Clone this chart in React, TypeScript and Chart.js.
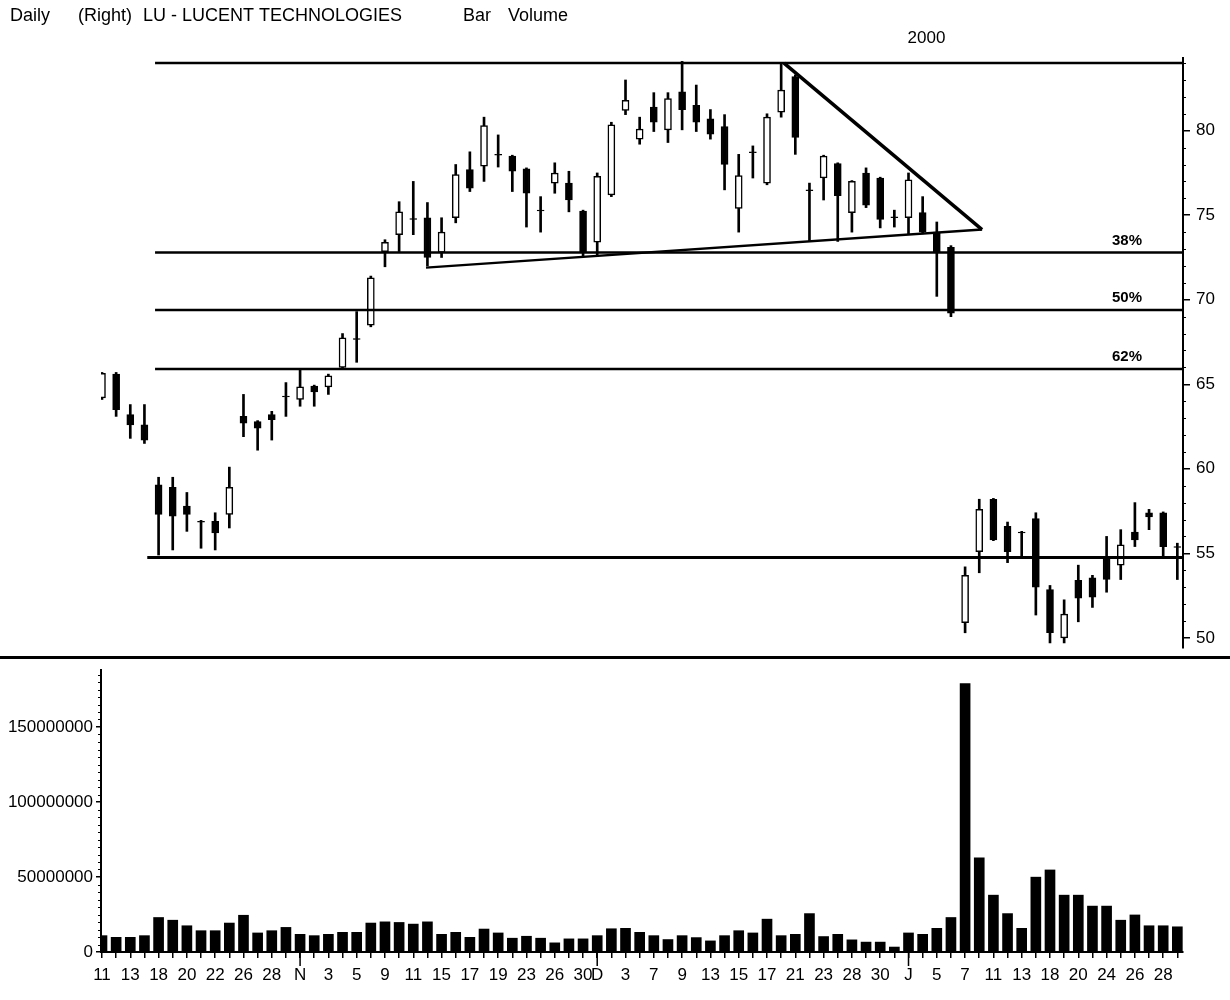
import React, { useEffect, useRef } from 'react';
import { Chart, registerables } from 'chart.js';

Chart.register(...registerables);

// ---------- DATA ----------
const tickLabels = [
  '11', '', '13', '', '18', '', '20', '', '22', '',
  '26', '', '28', '', 'N', '', '3', '', '5', '',
  '9', '', '11', '', '15', '', '17', '', '19', '',
  '23', '', '26', '', '30', 'D', '', '3', '', '7',
  '', '9', '', '13', '', '15', '', '17', '', '21',
  '', '23', '', '28', '', '30', '', 'J', '', '5',
  '', '7', '', '11', '', '13', '', '18', '', '20',
  '', '24', '', '26', '', '28', '',
];

const opens = [
  64.2, 65.6, 63.2, 62.6, 59.05, 58.9, 57.8, 56.9, 56.9, 57.3,
  63.1, 62.8, 63.2, 64.3, 64.1, 64.9, 64.85, 66.0, 67.7, 68.5,
  72.85, 73.85, 74.8, 74.85, 72.8, 74.85, 77.7, 77.9, 78.6, 78.5,
  77.75, 75.3, 76.9, 76.9, 75.25, 73.4, 76.2, 81.2, 79.5, 81.4,
  80.05, 82.3, 81.5, 80.7, 80.25, 75.4, 78.75, 76.9, 81.1, 83.2,
  76.5, 77.2, 78.05, 75.15, 77.5, 77.2, 74.9, 74.85, 75.15, 74.0,
  73.1, 50.9, 55.1, 58.2, 56.6, 56.25, 57.05, 52.85, 50.0, 53.4,
  53.55, 54.8, 54.3, 56.25, 57.4, 57.4, 55.4,
];
const highs = [
  65.7, 65.7, 63.8, 63.8, 59.5, 59.5, 58.6, 56.95, 57.4, 60.1,
  64.4, 62.85, 63.4, 65.1, 65.9, 64.95, 65.6, 68.0, 69.3, 71.4,
  73.55, 75.8, 77.0, 75.75, 74.85, 78.0, 78.75, 80.8, 79.75, 78.55,
  77.8, 76.1, 78.1, 77.6, 75.3, 77.5, 80.5, 83.0, 80.8, 82.25,
  82.25, 84.1, 82.7, 81.25, 80.95, 78.6, 79.1, 81.0, 84.0, 83.3,
  76.9, 78.55, 78.1, 77.05, 77.8, 77.25, 75.3, 77.5, 76.1, 74.6,
  73.2, 54.2, 58.2, 58.25, 56.85, 56.3, 57.4, 53.1, 52.25, 54.3,
  53.7, 56.0, 56.4, 58.0, 57.6, 57.45, 55.6,
];
const lows = [
  64.1, 63.1, 61.8, 61.5, 54.9, 55.2, 56.3, 55.3, 55.2, 56.5,
  61.9, 61.1, 61.7, 63.1, 63.7, 63.7, 64.4, 65.95, 66.3, 68.4,
  71.95, 72.85, 73.85, 72.0, 72.5, 74.55, 76.4, 77.0, 77.85, 76.4,
  74.3, 74.0, 76.3, 75.2, 72.6, 72.65, 76.1, 80.95, 79.2, 79.95,
  79.3, 80.05, 79.95, 79.5, 76.5, 74.0, 77.2, 76.8, 80.8, 78.6,
  73.45, 75.9, 73.45, 74.0, 75.45, 74.25, 74.3, 73.85, 73.9, 70.2,
  69.0, 50.3, 53.85, 55.75, 54.45, 54.8, 51.35, 49.7, 49.7, 50.95,
  51.8, 52.7, 53.45, 55.4, 56.4, 54.8, 53.45,
];
const closes = [
  65.65, 63.5, 62.6, 61.7, 57.3, 57.2, 57.3, 56.85, 56.2, 58.9,
  62.7, 62.4, 62.9, 64.25, 64.85, 64.55, 65.5, 67.75, 67.65, 71.3,
  73.4, 75.2, 74.75, 72.5, 74.0, 77.4, 76.6, 80.3, 78.55, 77.6,
  76.3, 75.25, 77.5, 75.9, 72.8, 77.3, 80.35, 81.8, 80.1, 80.5,
  81.9, 81.25, 80.5, 79.8, 78.0, 77.35, 78.7, 80.8, 82.4, 79.6,
  76.45, 78.5, 76.15, 77.0, 75.6, 74.75, 74.85, 77.1, 74.0, 72.85,
  69.2, 53.7, 57.6, 55.8, 55.1, 56.2, 53.0, 50.3, 51.4, 52.35,
  52.4, 53.45, 55.5, 55.8, 57.15, 55.4, 55.35,
];
const volumes = [
  10900000, 9800000, 9800000, 10900000, 23000000, 21200000, 17500000, 14200000, 14200000, 19300000,
  24500000, 12700000, 14200000, 16400000, 11800000, 10900000, 11800000, 13100000, 13100000, 19300000,
  20100000, 19700000, 18600000, 20100000, 11800000, 13100000, 9800000, 15300000, 12700000, 9200000,
  10500000, 9200000, 6100000, 8750000, 8750000, 10900000, 15500000, 15800000, 13100000, 10900000,
  8300000, 10900000, 9600000, 7400000, 10900000, 14200000, 12700000, 21900000, 10900000, 11800000,
  25600000, 10300000, 11800000, 8100000, 6600000, 6600000, 3300000, 12700000, 11800000, 15800000,
  23000000, 179000000, 62800000, 37900000, 25600000, 15800000, 49900000, 54700000, 37900000, 37900000,
  30600000, 30600000, 21200000, 24700000, 17500000, 17500000, 16800000,
];

const priceTicks = [50, 55, 60, 65, 70, 75, 80];
const volumeTicks = [0, 50000000, 100000000, 150000000];
const fibLevels = [72.8, 69.4, 65.9];
const fibLabels = ['38%', '50%', '62%'];
const topLevel = 84.0;
const baseLevel = 54.75;
const lowerTrendX = [22.9, 62.2];
const lowerTrendY = [71.9, 74.15];
const upperTrendX = [48.2, 62.2];
const upperTrendY = [84.0, 74.15];
const monthStarts = ['N', 'D', 'J'];
const headerTexts = ['Daily', '(Right)', 'LU - LUCENT TECHNOLOGIES', 'Bar', 'Volume'];
const yearLabel = '2000';

const X_MIN = -0.07;
const X_MAX = 76.4;
const FONT = "'Liberation Sans', Arial, sans-serif";

export default function App() {
  const priceRef = useRef<HTMLCanvasElement | null>(null);
  const volRef = useRef<HTMLCanvasElement | null>(null);

  useEffect(() => {
    Chart.defaults.font.family = FONT;
    Chart.defaults.color = '#000';

    const hline = (x0: number, y: number, w: number) => ({
      type: 'line' as const,
      data: [{ x: x0, y }, { x: X_MAX, y }],
      borderColor: '#000',
      borderWidth: w,
      pointRadius: 0,
      fill: false,
      order: -1,
    });

    const headerXs = [10, 78, 143, 463, 508];

    const pricePlugin = {
      id: 'priceDecor',
      afterDraw(chart: any) {
        const ctx = chart.ctx;
        const xs = chart.scales.x;
        const ys = chart.scales.y;
        const ca = chart.chartArea;
        ctx.save();
        ctx.fillStyle = '#000';
        ctx.textBaseline = 'middle';
        ctx.textAlign = 'left';
        ctx.font = `18px ${FONT}`;
        headerTexts.forEach((t, i) => ctx.fillText(t, headerXs[i], 16));
        ctx.textAlign = 'center';
        ctx.font = `17px ${FONT}`;
        ctx.fillText(yearLabel, xs.getPixelForValue(57) + 18, 38);
        ctx.font = `bold 15px ${FONT}`;
        ctx.textAlign = 'right';
        fibLevels.forEach((lv, i) => {
          ctx.fillText(fibLabels[i], ca.right - 41, ys.getPixelForValue(lv) - 12);
        });
        // minor ticks on price axis
        ctx.strokeStyle = '#000';
        ctx.lineWidth = 1;
        for (let v = 50; v <= 84; v++) {
          if (v % 5 === 0) continue;
          const y = Math.round(ys.getPixelForValue(v)) + 0.5;
          ctx.beginPath();
          ctx.moveTo(ca.right, y);
          ctx.lineTo(ca.right + 3, y);
          ctx.stroke();
        }
        ctx.restore();
      },
    };

    const priceChart = new Chart(priceRef.current as HTMLCanvasElement, {
      type: 'bar',
      data: {
        datasets: [
          {
            type: 'bar',
            data: opens.map((o, i) => ({ x: i, y: [o, closes[i]] })) as any,
            backgroundColor: opens.map((o, i) => (closes[i] > o ? '#fff' : '#000')),
            borderColor: '#000',
            borderWidth: 1.5,
            borderSkipped: false,
            barThickness: 7,
            grouped: false,
            order: 0,
          } as any,
          {
            type: 'bar',
            data: lows.map((l, i) => ({ x: i, y: [l, highs[i]] })) as any,
            backgroundColor: '#000',
            barThickness: 2,
            grouped: false,
            order: 1,
          } as any,
          hline(3.75, topLevel, 2.5),
          hline(3.75, fibLevels[0], 2.5),
          hline(3.75, fibLevels[1], 2.5),
          hline(3.75, fibLevels[2], 2.5),
          hline(3.2, baseLevel, 3),
          {
            type: 'line',
            data: lowerTrendX.map((x, i) => ({ x, y: lowerTrendY[i] })),
            borderColor: '#000',
            borderWidth: 2.5,
            pointRadius: 0,
            order: -1,
          } as any,
          {
            type: 'line',
            data: upperTrendX.map((x, i) => ({ x, y: upperTrendY[i] })),
            borderColor: '#000',
            borderWidth: 3.5,
            pointRadius: 0,
            order: -1,
          } as any,
        ],
      },
      options: {
        responsive: false,
        maintainAspectRatio: false,
        animation: false,
        layout: { padding: { top: 58, bottom: 17, left: 101, right: 0 } },
        plugins: { legend: { display: false }, tooltip: { enabled: false } },
        scales: {
          x: {
            type: 'linear',
            min: X_MIN,
            max: X_MAX,
            offset: false,
            display: false,
            grid: { offset: false },
          },
          y: {
            type: 'linear',
            position: 'right',
            min: 49.4,
            max: 84.3,
            afterFit: (s: any) => { s.width = 47; },
            afterBuildTicks: (s: any) => { s.ticks = priceTicks.map((v) => ({ value: v })); },
            border: { display: true, color: '#000', width: 2 },
            grid: { drawOnChartArea: false, drawTicks: true, tickLength: 7, color: '#000', lineWidth: 1.5 },
            ticks: { font: { size: 17, family: FONT }, color: '#000', padding: 6 },
          },
        },
      } as any,
      plugins: [pricePlugin],
    });

    const volPlugin = {
      id: 'volDecor',
      afterDraw(chart: any) {
        const ctx = chart.ctx;
        const xs = chart.scales.x;
        const ys = chart.scales.y;
        const ca = chart.chartArea;
        ctx.save();
        ctx.fillStyle = '#000';
        ctx.fillRect(0, 1, 1230, 3);
        ctx.strokeStyle = '#000';
        ctx.lineWidth = 1;
        for (let v = 5000000; v <= 185000000; v += 5000000) {
          if (v % 50000000 === 0) continue;
          const y = Math.round(ys.getPixelForValue(v)) + 0.5;
          ctx.beginPath();
          ctx.moveTo(ca.left - 3, y);
          ctx.lineTo(ca.left, y);
          ctx.stroke();
        }
        ctx.lineWidth = 1.5;
        tickLabels.forEach((t, i) => {
          if (!monthStarts.includes(t)) return;
          const x = xs.getPixelForValue(i);
          ctx.beginPath();
          ctx.moveTo(x, ca.bottom);
          ctx.lineTo(x, ca.bottom + 14);
          ctx.stroke();
        });
        ctx.restore();
      },
    };

    const volChart = new Chart(volRef.current as HTMLCanvasElement, {
      type: 'bar',
      data: {
        datasets: [
          {
            data: volumes.map((v, i) => ({ x: i, y: v })) as any,
            backgroundColor: '#000',
            barThickness: 10,
            grouped: false,
          } as any,
        ],
      },
      options: {
        responsive: false,
        maintainAspectRatio: false,
        animation: false,
        layout: { padding: { top: 15, right: 47, left: 0, bottom: 0 } },
        plugins: { legend: { display: false }, tooltip: { enabled: false } },
        scales: {
          x: {
            type: 'linear',
            min: X_MIN,
            max: X_MAX,
            offset: false,
            position: 'bottom',
            afterFit: (s: any) => { s.height = 48; },
            afterBuildTicks: (s: any) => { s.ticks = tickLabels.map((_, i) => ({ value: i })); },
            border: { display: true, color: '#000', width: 2 },
            grid: { offset: false, drawOnChartArea: false, drawTicks: true, tickLength: 6, color: '#000', lineWidth: 1.5 },
            ticks: {
              autoSkip: false,
              maxRotation: 0,
              minRotation: 0,
              padding: 7,
              font: { size: 17, family: FONT },
              color: '#000',
              callback: (v: any) => tickLabels[v] ?? '',
            },
          },
          y: {
            type: 'linear',
            position: 'left',
            min: 0,
            max: 188000000,
            afterFit: (s: any) => { s.width = 101; },
            afterBuildTicks: (s: any) => { s.ticks = volumeTicks.map((v) => ({ value: v })); },
            border: { display: true, color: '#000', width: 2 },
            grid: { drawOnChartArea: false, drawTicks: true, tickLength: 5, color: '#000', lineWidth: 1.5 },
            ticks: {
              font: { size: 17, family: FONT },
              color: '#000',
              padding: 3,
              callback: (v: any) => String(v),
            },
          },
        },
      } as any,
      plugins: [volPlugin],
    });

    return () => {
      priceChart.destroy();
      volChart.destroy();
    };
  }, []);

  return (
    <div style={{ position: 'absolute', left: 0, top: 0, width: 1230, height: 1000, background: '#fff' }}>
      <canvas ref={priceRef} width={1230} height={665} style={{ position: 'absolute', left: 0, top: 0 }} />
      <canvas ref={volRef} width={1230} height={345} style={{ position: 'absolute', left: 0, top: 655 }} />
    </div>
  );
}
